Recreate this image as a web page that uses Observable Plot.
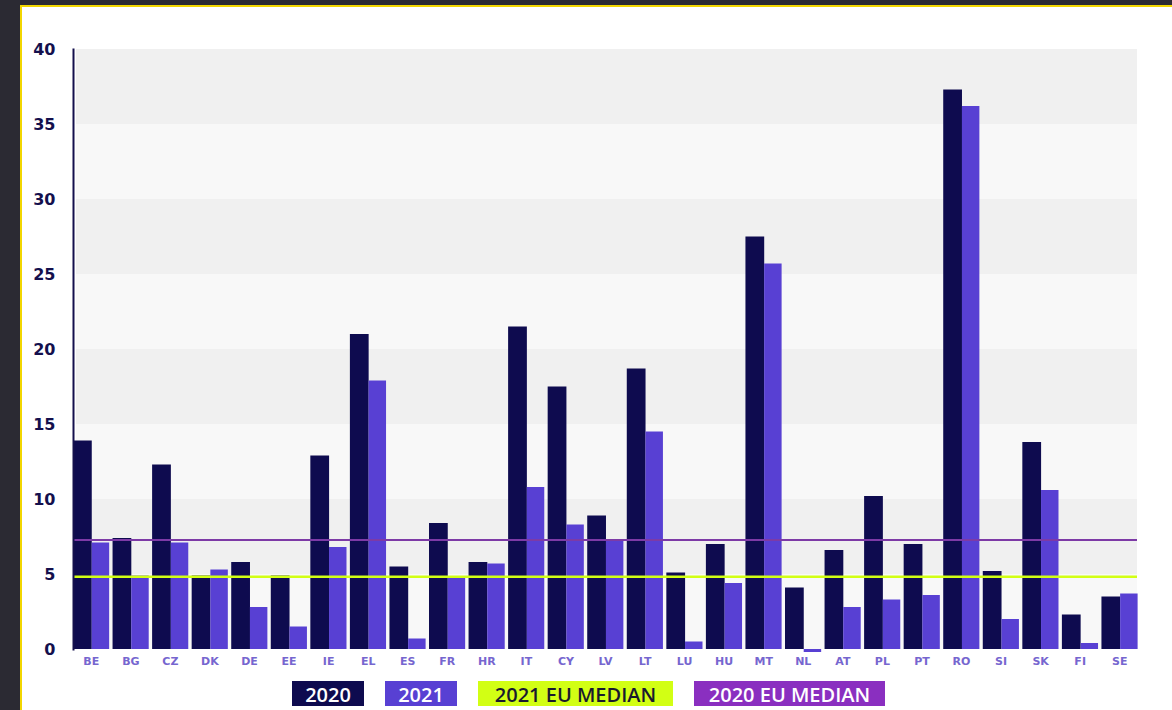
<!DOCTYPE html>
<html>
<head>
<meta charset="utf-8">
<script src="https://cdn.jsdelivr.net/npm/d3@7"></script>
<script src="https://cdn.jsdelivr.net/npm/@observablehq/plot@0.6"></script>
<style>
  html, body { margin: 0; padding: 0; width: 1172px; height: 710px; overflow: hidden; background: #2b2a33; font-family: "DejaVu Sans", sans-serif; }
  #panel { position: absolute; left: 20px; top: 5px; right: 0; bottom: 0; background: #ffffff; border-left: 2px solid #f2d600; border-top: 2px solid #f2d600; }
  #chart { position: absolute; left: 0; top: 0; }
  #legend { position: absolute; top: 681px; left: 292px; display: flex; gap: 21px; }
  .key { height: 25px; line-height: 25px; text-align: center; font: 600 20px "Open Sans", sans-serif; color: #ffffff; }
</style>
</head>
<body>
<div id="panel"></div>
<div id="chart"></div>
<div id="legend"></div>
<script>
// ---- data ----
const countries = ["BE","BG","CZ","DK","DE","EE","IE","EL","ES","FR","HR","IT","CY","LV","LT","LU","HU","MT","NL","AT","PL","PT","RO","SI","SK","FI","SE"];
const values2020 = [13.9, 7.4, 12.3, 4.9, 5.8, 4.9, 12.9, 21.0, 5.5, 8.4, 5.8, 21.5, 17.5, 8.9, 18.7, 5.1, 7.0, 27.5, 4.1, 6.6, 10.2, 7.0, 37.3, 5.2, 13.8, 2.3, 3.5];
const values2021 = [7.1, 4.9, 7.1, 5.3, 2.8, 1.5, 6.8, 17.9, 0.7, 4.8, 5.7, 10.8, 8.3, 7.3, 14.5, 0.5, 4.4, 25.7, -0.2, 2.8, 3.3, 3.6, 36.2, 2.0, 10.6, 0.4, 3.7];
const median2020 = 7.3;
const median2021 = 4.85;
const yTicks = [0, 5, 10, 15, 20, 25, 30, 35, 40];
const legendLabels = ["2020", "2021", "2021 EU MEDIAN", "2020 EU MEDIAN"];

// ---- styles ----
const C2020 = "#0e0b4f", C2021 = "#5840d3", CLIME = "#d2ff14", CPURPLE = "#8a2fc0", CPURPLE_LINE = "#7d3aa6";
const NAVY = "#14104d", XLABEL = "#7666cf";

const bars = countries.flatMap((c, i) => [
  {country: c, year: "2020", value: values2020[i]},
  {country: c, year: "2021", value: values2021[i]}
]);
const bands = yTicks.slice(0, -1).map((t, i) => ({lo: t, hi: yTicks[i + 1], odd: i % 2 === 1}));

const chart = Plot.plot({
  width: 1172,
  height: 680,
  marginLeft: 73,
  marginRight: 31,
  marginTop: 49,
  marginBottom: 31,
  style: {background: "transparent", fontFamily: "'DejaVu Sans', sans-serif"},
  x: {domain: countries, paddingInner: 0, paddingOuter: 0, round: false, axis: null},
  y: {domain: [0, 40], axis: null},
  marks: [
    Plot.rect(bands, {y1: "lo", y2: "hi", fill: d => d.odd ? "#f0f0f0" : "#f8f8f8", insetLeft: 3, insetRight: 4}),
    Plot.barY(bars.filter(d => d.year === "2020"), {x: "country", y: "value", fill: C2020, insetLeft: 0, insetRight: 20.8}),
    Plot.barY(bars.filter(d => d.year === "2021"), {x: "country", y: "value", fill: C2021, insetLeft: 18.7, insetRight: 3.4}),
    Plot.ruleY([median2020], {stroke: CPURPLE_LINE, strokeWidth: 2, insetRight: 4}),
    Plot.ruleY([median2021], {stroke: CLIME, strokeWidth: 2.5, insetRight: 4}),
    Plot.frame({anchor: "left", stroke: NAVY, strokeWidth: 2}),
    Plot.axisY(yTicks, {tickSize: 0, tickPadding: 18, fontSize: 16, fontWeight: "bold", color: NAVY, label: null}),
    Plot.axisX({tickSize: 0, tickPadding: 8, fontSize: 11, fontWeight: "bold", color: XLABEL, dx: -2, label: null})
  ]
});
document.getElementById("chart").appendChild(chart);

// ---- legend ----
const legendStyles = [
  {bg: C2020, fg: "#ffffff", w: 72},
  {bg: C2021, fg: "#ffffff", w: 72},
  {bg: CLIME, fg: "#1a1a2e", w: 195},
  {bg: CPURPLE, fg: "#ffffff", w: 191}
];
const legend = document.getElementById("legend");
legendLabels.forEach((lab, i) => {
  const el = document.createElement("div");
  el.className = "key";
  el.textContent = lab;
  el.style.background = legendStyles[i].bg;
  el.style.color = legendStyles[i].fg;
  el.style.width = legendStyles[i].w + "px";
  legend.appendChild(el);
});
</script>
</body>
</html>
